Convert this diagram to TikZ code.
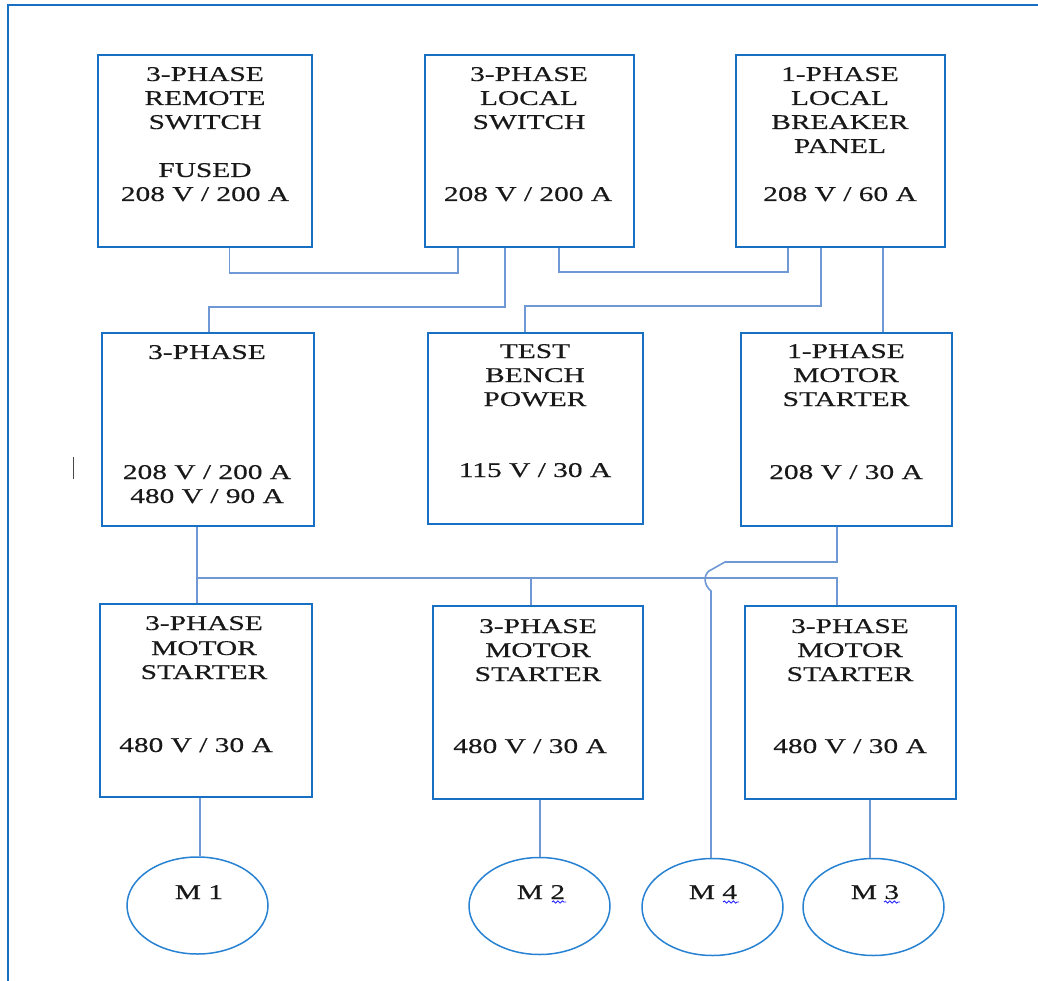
\documentclass[tikz,border=0pt]{standalone}
\usepackage{fontspec}
\setmainfont{Liberation Serif}[FakeStretch=1.4,FakeBold=0.4]
\usetikzlibrary{shapes.geometric,decorations.pathmorphing}
\definecolor{boxblue}{RGB}{24,112,196}
\definecolor{motorblue}{RGB}{40,130,210}
\definecolor{wireblue}{RGB}{112,152,212}
\definecolor{inkgray}{RGB}{25,25,25}
\begin{document}
\begin{tikzpicture}[x=1pt,y=-1pt,
 box/.style={draw=boxblue,line width=1.7pt,rectangle,inner sep=0pt},
 motor/.style={draw=motorblue,line width=1.5pt,ellipse,minimum width=141pt,minimum height=97pt,inner sep=0pt},
 wire/.style={draw=wireblue,line width=1.6pt},
 txt/.style={inner sep=0pt,anchor=base,text=inkgray,font=\fontsize{21}{24}\selectfont},
 frameline/.style={draw=boxblue,line width=1.7pt},
 squig/.style={draw=blue!85,line width=0.9pt,decorate,decoration={snake,amplitude=1.1pt,segment length=4.5pt}}]
\useasboundingbox (0,0) rectangle (1038,981);
\fill[white] (0,0) rectangle (1038,981);
\draw[frameline] (8,981) -- (8,5) -- (1038,5);

% boxes
\node[box,minimum width=214pt,minimum height=192pt] (A) at (205,151) {};
\node[box,minimum width=209pt,minimum height=192pt] (B) at (529.5,151) {};
\node[box,minimum width=209pt,minimum height=192pt] (C) at (840.5,151) {};
\node[box,minimum width=212pt,minimum height=193pt] (D) at (208,429.5) {};
\node[box,minimum width=215pt,minimum height=191pt] (E) at (535.5,428.5) {};
\node[box,minimum width=211pt,minimum height=193pt] (F) at (846.5,429.5) {};
\node[box,minimum width=212pt,minimum height=193pt] (G) at (206,700.5) {};
\node[box,minimum width=210pt,minimum height=193pt] (H) at (538,702.5) {};
\node[box,minimum width=211pt,minimum height=193pt] (I) at (850.5,702.5) {};

% motors
\node[motor] (M1) at (197.5,905.5) {};
\node[motor] (M2) at (539.5,906) {};
\node[motor] (M4) at (712.5,907) {};
\node[motor] (M3) at (873.5,907) {};

% texts
\node[txt] (a1) at (205,81) {3-PHASE};
\node[txt] (a2) at (205,105) {REMOTE};
\node[txt] (a3) at (205,129) {SWITCH};
\node[txt] (a4) at (205,177) {FUSED};
\node[txt] (a5) at (205,201) {208 V / 200 A};

\node[txt] (b1) at (529,81) {3-PHASE};
\node[txt] (b2) at (529,105) {LOCAL};
\node[txt] (b3) at (529,129) {SWITCH};
\node[txt] (b4) at (528,201) {208 V / 200 A};

\node[txt] (c1) at (840,81) {1-PHASE};
\node[txt] (c2) at (840,105) {LOCAL};
\node[txt] (c3) at (840,129) {BREAKER};
\node[txt] (c4) at (840,153) {PANEL};
\node[txt] (c5) at (840,201) {208 V / 60 A};

\node[txt] (d1) at (207,359) {3-PHASE};
\node[txt] (d2) at (207,479) {208 V / 200 A};
\node[txt] (d3) at (207,503) {480 V / 90 A};

\node[txt] (e1) at (535,358) {TEST};
\node[txt] (e2) at (535,382) {BENCH};
\node[txt] (e3) at (535,406) {POWER};
\node[txt] (e4) at (535,477) {115 V / 30 A};

\node[txt] (f1) at (846,358) {1-PHASE};
\node[txt] (f2) at (846,382) {MOTOR};
\node[txt] (f3) at (846,406) {STARTER};
\node[txt] (f4) at (846,479) {208 V / 30 A};

\node[txt] (g1) at (204,630) {3-PHASE};
\node[txt] (g2) at (204,655) {MOTOR};
\node[txt] (g3) at (204,679) {STARTER};
\node[txt] (g4) at (196,752) {480 V / 30 A};

\node[txt] (h1) at (538,633) {3-PHASE};
\node[txt] (h2) at (538,657) {MOTOR};
\node[txt] (h3) at (538,681) {STARTER};
\node[txt] (h4) at (530,753) {480 V / 30 A};

\node[txt] (i1) at (850,633) {3-PHASE};
\node[txt] (i2) at (850,657) {MOTOR};
\node[txt] (i3) at (850,681) {STARTER};
\node[txt] (i4) at (850,753) {480 V / 30 A};

\node[txt] (m1) at (199,899) {M 1};
\node[txt] (m2) at (541,899) {M 2};
\node[txt] (m4) at (713,899) {M 4};
\node[txt] (m3) at (875,899) {M 3};

% spelling squiggles
\draw[squig] (552,902) -- (566,902);
\draw[squig] (723,902) -- (739,902);
\draw[squig] (884,902) -- (900,902);

% cursor mark
\draw[line width=1.8pt,draw=inkgray!80] (73.5,457) -- (73.5,479);

% connectors top
\draw[wire] (229.5,0 |- A.south) -- (229.5,273) -| (458,0 |- B.south);
\draw[wire] (505,0 |- B.south) |- (209,307) -- (209,0 |- D.north);
\draw[wire] (559,0 |- B.south) |- (788,272) -- (788,0 |- C.south);
\draw[wire] (821,0 |- C.south) |- (525,306) -- (525,0 |- E.north);
\draw[wire] (883,0 |- C.south) -- (883,0 |- F.north);

% bus
\coordinate (busL) at (197,578);
\coordinate (busR) at (837,578);
\draw[wire] (197,0 |- D.south) -- (197,0 |- G.north);
\draw[wire] (busL) -- (busR) -- (837,0 |- I.north);
\draw[wire] (531,578) -- (531,0 |- H.north);

% 1-phase starter to M4 with hop
\draw[wire] (837,0 |- F.south) -- (837,562) -- (725,562) -- (709,571)
  .. controls (703,576) and (704,585) .. (711,591) -- (711,0 |- M4.north);

% starters to motors
\draw[wire] (200,0 |- G.south) -- (200,0 |- M1.north);
\draw[wire] (540,0 |- H.south) -- (540,0 |- M2.north);
\draw[wire] (870,0 |- I.south) -- (870,0 |- M3.north);
\end{tikzpicture}
\end{document}
